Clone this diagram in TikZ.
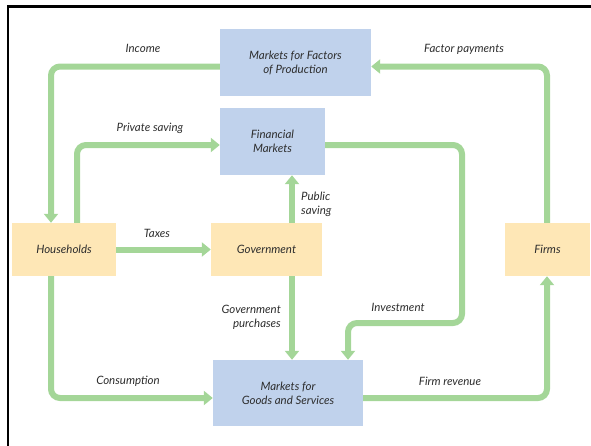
\documentclass[tikz,border=0pt]{standalone}
\usepackage{fontspec}
\setmainfont{Lato}
\usetikzlibrary{arrows.meta}
\definecolor{boxblue}{RGB}{192,210,236}
\definecolor{boxorange}{RGB}{254,231,182}
\definecolor{flowgreen}{RGB}{164,214,152}
\definecolor{txt}{RGB}{45,45,45}
\tikzset{
  market/.style={fill=boxblue, draw=none, minimum width=#1, inner sep=0pt, align=center, font=\itshape\fontsize{11.5}{14}\selectfont, text=txt},
  agent/.style={fill=boxorange, draw=none, minimum width=#1, minimum height=53pt, inner sep=0pt, align=center, font=\itshape\fontsize{11.5}{14}\selectfont, text=txt},
  flow/.style={draw=flowgreen, line width=6pt, rounded corners=9pt, -{Triangle[width=14pt,length=9pt]}},
  lbl/.style={font=\itshape\fontsize{11.5}{14}\selectfont, text=txt, inner sep=0pt}
}
\begin{document}
\begin{tikzpicture}[x=1pt,y=-1pt]
\useasboundingbox (0,0) rectangle (591,445);
\draw[line width=2.5pt] (8,446) -- (8,6.25) -- (592,6.25);
% nodes
\node[market=151pt, minimum height=67pt] (fac) at (295.5,62.5) {Markets for Factors\\of Production};
\node[market=105pt, minimum height=67pt] (fin) at (272.5,141.5) {Financial\\Markets};
\node[agent=104pt] (hh) at (64,249.5) {Households};
\node[agent=111pt] (gov) at (266.5,249.5) {Government};
\node[agent=85pt] (firms) at (547.5,249.5) {Firms};
\node[market=150pt, minimum height=66pt] (goods) at (288,393) {Markets for\\Goods and Services};
% helper coordinates
\coordinate (ry1) at (0,66.5);
\coordinate (ry2) at (0,145);
\coordinate (ry3) at (0,323);
\coordinate (ry4) at (0,398);
\coordinate (cx1) at (51,0);
\coordinate (cx2) at (77,0);
\coordinate (cx3) at (292,0);
\coordinate (cx4) at (462,0);
\coordinate (cx5) at (348,0);
\coordinate (cx6) at (547,0);
% flows
\draw[flow] (fac.west |- ry1) -| (hh.north -| cx1);
\draw[flow] (hh.north -| cx2) |- (fin.west |- ry2);
\draw[flow] (gov.north -| cx3) -- (fin.south -| cx3);
\draw[flow] (fin.east |- ry2) -| (cx4 |- ry3) -| (goods.north -| cx5);
\draw[flow] (hh.east) -- (gov.west);
\draw[flow] (gov.south -| cx3) -- (goods.north -| cx3);
\draw[flow] (hh.south -| cx1) |- (goods.west |- ry4);
\draw[flow] (goods.east |- ry4) -| (firms.south -| cx6);
\draw[flow] (firms.north -| cx6) |- (fac.east |- ry1);
% labels
\node[lbl] (lincome) at (143,48) {Income};
\node[lbl] (lfactor) at (464,49) {Factor payments};
\node[lbl] (lpriv) at (150,128) {Private saving};
\node[lbl, align=left, anchor=west] (lpub) at (301,204) {Public\\saving};
\node[lbl] (ltax) at (157,233) {Taxes};
\node[lbl, align=right, anchor=east] (lgovp) at (281,317) {Government\\purchases};
\node[lbl] (linv) at (398,307) {Investment};
\node[lbl] (lcons) at (128,381) {Consumption};
\node[lbl] (lrev) at (450,381) {Firm revenue};
\end{tikzpicture}
\end{document}
